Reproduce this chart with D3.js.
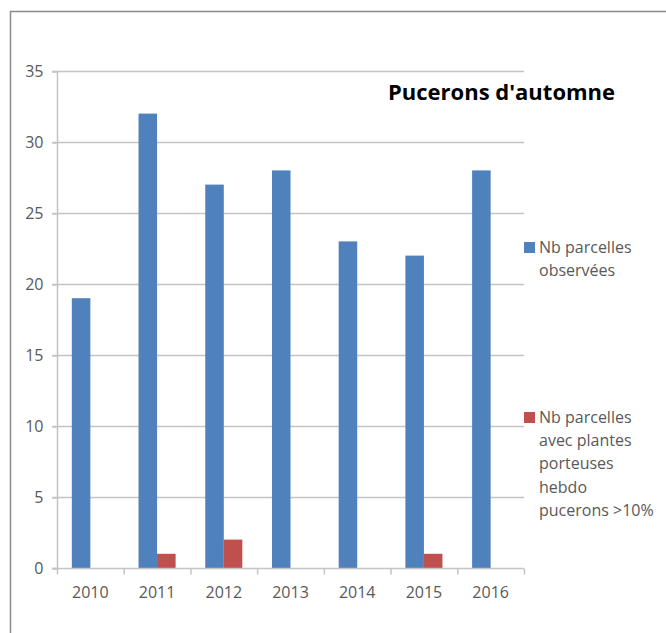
<!DOCTYPE html>
<html>
<head>
<meta charset="utf-8">
<script src="https://cdn.jsdelivr.net/npm/d3@7"></script>
<style>
  body { margin: 0; background: #fff; }
  text { font-family: "Open Sans", sans-serif; }
</style>
</head>
<body>
<script>
(function(){

//chart data
var years = ["2010", "2011", "2012", "2013", "2014", "2015", "2016"];
var observees = [19, 32, 27, 28, 23, 22, 28];
var pucerons = [0, 1, 2, 0, 0, 1, 0];
var yTicks = [0, 5, 10, 15, 20, 25, 30, 35];
var seriesNames = [["Nb parcelles", "observées"],
    ["Nb parcelles", "avec plantes", "porteuses", "hebdo", "pucerons >10%"]];
var colors = ["#4F81BD", "#C0504D"];

var width = 666, height = 633;
var plotLeft = 57, plotRight = 524, plotTop = 71, plotBottom = 568;

var svg = d3.select("body").append("svg")
    .attr("width", width)
    .attr("height", height);

//frame (only top and left edges show)
svg.append("path")
    .attr("d", "M10.5,633 L10.5,11.5 L666,11.5")
    .attr("fill", "none")
    .attr("stroke", "#8a8a8a")
    .attr("stroke-width", 1.5);

var x = d3.scaleBand()
    .domain(years)
    .range([plotLeft, plotRight]);

var xInner = d3.scaleBand()
    .domain([0, 1])
    .range([0, x.bandwidth()])
    .paddingOuter(0.8);

var y = d3.scaleLinear()
    .domain([0, 35])
    .range([plotBottom, plotTop]);

//gridlines
svg.selectAll(".grid")
    .data(yTicks.slice(1))
    .enter()
    .append("line")
    .attr("class", "grid")
    .attr("x1", plotLeft - 5)
    .attr("x2", plotRight)
    .attr("y1", function(d){ return Math.round(y(d)) + 0.5; })
    .attr("y2", function(d){ return Math.round(y(d)) + 0.5; })
    .attr("stroke", "#c4c4c4")
    .attr("stroke-width", 1.5);

//y axis
var yAxis = svg.append("g")
    .attr("transform", "translate(" + (plotLeft + 0.5) + ",0.5)")
    .call(d3.axisLeft(y).tickValues(yTicks).tickSize(5).tickPadding(9));
yAxis.select(".domain").attr("stroke", "#c4c4c4").attr("stroke-width", 1.5)
    .attr("d", "M-5," + plotTop + "H0V" + plotBottom + "H-5");
yAxis.selectAll(".tick line").attr("stroke", "#c4c4c4").attr("stroke-width", 1.5);
yAxis.selectAll(".tick text")
    .attr("fill", "#595959")
    .style("font-size", "16px")
    .style("font-family", "'Open Sans', sans-serif");

//bars
var series = [observees, pucerons];
series.forEach(function(vals, s){
    svg.selectAll(".bar" + s)
        .data(vals)
        .enter()
        .append("rect")
        .attr("class", "bar" + s)
        .attr("x", function(d, i){ return x(years[i]) + xInner(s); })
        .attr("width", xInner.bandwidth())
        .attr("y", function(d){ return y(d); })
        .attr("height", function(d){ return plotBottom - y(d); })
        .attr("fill", colors[s]);
});

//x axis
var xAxis = svg.append("g")
    .attr("transform", "translate(0," + (plotBottom + 0.5) + ")");
xAxis.append("line")
    .attr("x1", plotLeft - 5)
    .attr("x2", plotRight)
    .attr("stroke", "#c4c4c4")
    .attr("stroke-width", 1.5);
xAxis.selectAll(".xtick")
    .data(years.concat(["end"]))
    .enter()
    .append("line")
    .attr("x1", function(d, i){ return plotLeft + i * x.step() + 0.5; })
    .attr("x2", function(d, i){ return plotLeft + i * x.step() + 0.5; })
    .attr("y1", 0)
    .attr("y2", 6)
    .attr("stroke", "#c4c4c4")
    .attr("stroke-width", 1.5);
xAxis.selectAll(".xlabel")
    .data(years)
    .enter()
    .append("text")
    .attr("x", function(d){ return x(d) + x.bandwidth() / 2; })
    .attr("y", 29)
    .attr("text-anchor", "middle")
    .attr("fill", "#595959")
    .style("font-size", "16px")
    .text(function(d){ return d; });

//title
svg.append("text")
    .attr("x", 388)
    .attr("y", 100)
    .attr("fill", "#000")
    .style("font-size", "22px")
    .style("font-weight", "bold")
    .text("Pucerons d'automne");

//legend
var legendTops = [242, 412];
seriesNames.forEach(function(lines, s){
    svg.append("rect")
        .attr("x", 524)
        .attr("y", legendTops[s])
        .attr("width", 11)
        .attr("height", 11)
        .attr("fill", colors[s]);
    svg.append("text")
        .attr("x", 539)
        .attr("y", legendTops[s] + 11)
        .attr("fill", "#595959")
        .style("font-size", "16px")
        .selectAll("tspan")
        .data(lines)
        .enter()
        .append("tspan")
        .attr("x", 539)
        .attr("dy", function(d, i){ return i === 0 ? 0 : 23.2; })
        .text(function(d){ return d; });
});

})();
</script>
</body>
</html>
